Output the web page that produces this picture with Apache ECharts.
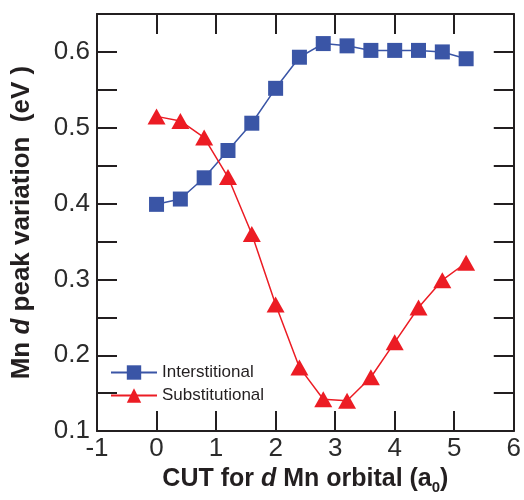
<!DOCTYPE html>
<html>
<head>
<meta charset="utf-8">
<script src="https://cdn.jsdelivr.net/npm/echarts@6/dist/echarts.min.js"></script>
<style>
  html, body { margin: 0; padding: 0; background: #fff; }
  #chart { width: 524px; height: 500px; }
</style>
</head>
<body>
<div id="chart"></div>
<script>
  // CUT radius (a0)
  var cutX = [0, 0.4, 0.8, 1.2, 1.6, 2.0, 2.4, 2.8, 3.2, 3.6, 4.0, 4.4, 4.8, 5.2];
  // peak variation (eV)
  var interstitional = [0.399, 0.406, 0.434, 0.470, 0.506, 0.552, 0.593, 0.611, 0.608, 0.602, 0.602, 0.602, 0.600, 0.591];
  var substitutional = [0.515, 0.509, 0.487, 0.435, 0.360, 0.267, 0.184, 0.142, 0.140, 0.171, 0.217, 0.263, 0.299, 0.322];
  var seriesNames = ['Interstitional', 'Substitutional'];

  function pairs(ys) {
    var out = [];
    for (var i = 0; i < cutX.length; i++) out.push([cutX[i], ys[i]]);
    return out;
  }

  var font = 'Liberation Sans, Arial, Helvetica, sans-serif';
  var black = '#231f20';
  var frameLine = { onZero: false, lineStyle: { color: black, width: 2 } };
  var frameTick = { inside: true, length: 20, lineStyle: { color: black, width: 2 } };

  var chart = echarts.init(document.getElementById('chart'));
  chart.setOption({
    animation: false,
    backgroundColor: '#fff',
    grid: { left: 97, right: 8, top: 14, bottom: 66 },
    legend: {
      left: 105, top: 359, orient: 'vertical',
      itemWidth: 46, itemHeight: 18, itemGap: 6,
      textStyle: { fontFamily: font, fontSize: 17, color: black },
      data: seriesNames
    },
    xAxis: [
      {
        type: 'value', min: -1, max: 6, interval: 1, position: 'bottom',
        axisLine: frameLine, axisTick: frameTick,
        axisLabel: { fontFamily: font, fontSize: 26, color: '#2b2b2b', margin: 5 },
        splitLine: { show: false },
        name: '{b|CUT for }{i|d}{b| Mn orbital (a}{s|0}{b|)}',
        nameLocation: 'middle', nameGap: 31,
        nameTextStyle: {
          rich: {
            b: { fontFamily: font, fontSize: 25, fontWeight: 'bold', color: black },
            i: { fontFamily: font, fontSize: 25, fontWeight: 'bold', fontStyle: 'italic', color: black },
            s: { fontFamily: font, fontSize: 15, fontWeight: 'bold', color: black, padding: [16, 0, 0, 0] }
          }
        }
      },
      {
        type: 'value', min: -1, max: 6, interval: 1, position: 'top',
        axisLine: frameLine, axisTick: frameTick,
        axisLabel: { show: false },
        splitLine: { show: false }
      }
    ],
    yAxis: [
      {
        type: 'value', min: 0.1, max: 0.65, interval: 0.05, position: 'left',
        axisLine: frameLine, axisTick: frameTick,
        axisLabel: {
          fontFamily: font, fontSize: 26, color: '#2b2b2b', margin: 7,
          formatter: function (v) {
            return Math.abs(v * 10 - Math.round(v * 10)) < 1e-6 ? v.toFixed(1) : '';
          }
        },
        splitLine: { show: false },
        name: '{b|Mn }{i|d}{b| peak variation  (eV )}',
        nameLocation: 'middle', nameGap: 62,
        nameTextStyle: {
          rich: {
            b: { fontFamily: font, fontSize: 26, fontWeight: 'bold', color: black },
            i: { fontFamily: font, fontSize: 26, fontWeight: 'bold', fontStyle: 'italic', color: black }
          }
        }
      },
      {
        type: 'value', min: 0.1, max: 0.65, interval: 0.05, position: 'right',
        axisLine: frameLine, axisTick: frameTick,
        axisLabel: { show: false },
        splitLine: { show: false }
      }
    ],
    series: [
      {
        name: seriesNames[0], type: 'line', data: pairs(interstitional),
        symbol: 'rect', symbolSize: 15,
        itemStyle: { color: '#3a55a6' },
        lineStyle: { color: '#3a55a6', width: 1.5 }
      },
      {
        name: seriesNames[1], type: 'line', data: pairs(substitutional),
        symbol: 'triangle', symbolSize: [18, 16],
        itemStyle: { color: '#ec1c24' },
        lineStyle: { color: '#ec1c24', width: 1.5 }
      }
    ]
  });
</script>
</body>
</html>
